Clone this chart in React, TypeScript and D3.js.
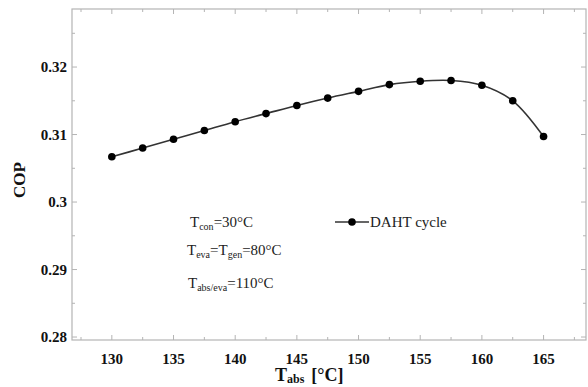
import { useRef, useEffect } from "react";
import * as d3 from "d3";

// values
const tAbs = [130, 132.5, 135, 137.5, 140, 142.5, 145, 147.5, 150, 152.5, 155, 157.5, 160, 162.5, 165];
const cop = [0.3067, 0.308, 0.3093, 0.3106, 0.3119, 0.3131, 0.3143, 0.3154, 0.3164, 0.3174, 0.3179, 0.318, 0.3173, 0.315, 0.3097];
const xTicks = [130, 135, 140, 145, 150, 155, 160, 165];
const xMinor = [127.5, 132.5, 137.5, 142.5, 147.5, 152.5, 157.5, 162.5, 167.5];
const yTicks = [0.28, 0.29, 0.3, 0.31, 0.32];
const yMinor = [0.285, 0.295, 0.305, 0.315, 0.325];
const seriesName = "DAHT cycle";

export default function App() {
  const ref = useRef<SVGSVGElement>(null);

  useEffect(() => {
    const width = 588;
    const height = 387;
    const left = 72, right = 586, top = 9, bottom = 340;
    const svg = d3.select(ref.current);
    svg.selectAll("*").remove();

    const font = "'Liberation Serif', 'Times New Roman', serif";
    const frame = "#b4b4b4";

    const x = d3.scaleLinear().domain([126.77, 168.44]).range([left, right]);
    const y = d3.scaleLinear().domain([0.27956, 0.3286]).range([bottom, top]);

    svg.append("rect").attr("width", width).attr("height", height).attr("fill", "white");

    // frame
    svg.append("rect")
      .attr("x", left).attr("y", top)
      .attr("width", right - left).attr("height", bottom - top)
      .attr("fill", "none").attr("stroke", frame).attr("stroke-width", 1.2);

    const ticks = svg.append("g").attr("stroke", frame).attr("stroke-width", 1);
    const tickX = (vals: number[], len: number) => {
      vals.forEach(v => {
        ticks.append("line").attr("x1", x(v)).attr("x2", x(v)).attr("y1", bottom).attr("y2", bottom - len);
        ticks.append("line").attr("x1", x(v)).attr("x2", x(v)).attr("y1", top).attr("y2", top + len);
      });
    };
    const tickY = (vals: number[], len: number) => {
      vals.forEach(v => {
        ticks.append("line").attr("y1", y(v)).attr("y2", y(v)).attr("x1", left).attr("x2", left + len);
        ticks.append("line").attr("y1", y(v)).attr("y2", y(v)).attr("x1", right).attr("x2", right - len);
      });
    };
    tickX(xTicks, 5); tickX(xMinor, 3);
    tickY(yTicks, 5); tickY(yMinor, 3);

    // tick labels
    svg.append("g").selectAll("text").data(xTicks).join("text")
      .attr("x", d => x(d)).attr("y", 364)
      .attr("text-anchor", "middle")
      .attr("font-family", font).attr("font-weight", "bold").attr("font-size", 15)
      .attr("fill", "#111")
      .text(d => d);

    svg.append("g").selectAll("text").data(yTicks).join("text")
      .attr("x", 67).attr("y", d => y(d) + 5)
      .attr("text-anchor", "end")
      .attr("font-family", font).attr("font-weight", "bold").attr("font-size", 15)
      .attr("fill", "#111")
      .text(d => d3.format("")(d));

    // axis titles
    const xt = svg.append("text")
      .attr("x", 275).attr("y", 381)
      .attr("font-family", font).attr("font-weight", "bold").attr("font-size", 18)
      .attr("fill", "#111");
    xt.append("tspan").text("T");
    xt.append("tspan").attr("font-size", 12).attr("dy", 2).text("abs");
    xt.append("tspan").attr("dy", -2).attr("dx", 7).text("[°C]");

    svg.append("text")
      .attr("transform", `translate(25,180) rotate(-90)`)
      .attr("text-anchor", "middle")
      .attr("font-family", font).attr("font-weight", "bold").attr("font-size", 17)
      .attr("fill", "#111")
      .text("COP");

    // curve
    const pts = tAbs.map((t, i) => [t, cop[i]] as [number, number]);
    const line = d3.line<[number, number]>()
      .x(d => x(d[0])).y(d => y(d[1]))
      .curve(d3.curveCatmullRom.alpha(0.5));
    svg.append("path").attr("d", line(pts))
      .attr("fill", "none").attr("stroke", "#333").attr("stroke-width", 1.6);
    svg.append("g").selectAll("circle").data(pts).join("circle")
      .attr("cx", d => x(d[0])).attr("cy", d => y(d[1]))
      .attr("r", 3.8).attr("fill", "#000");

    // legend
    const ly = 222;
    svg.append("line").attr("x1", 335).attr("x2", 369).attr("y1", ly).attr("y2", ly)
      .attr("stroke", "#333").attr("stroke-width", 1.6);
    svg.append("circle").attr("cx", 352).attr("cy", ly).attr("r", 3.8).attr("fill", "#000");
    svg.append("text").attr("x", 370).attr("y", ly + 5)
      .attr("font-family", font).attr("font-size", 15).attr("fill", "#222")
      .text(seriesName);

    // annotations
    const note = (xp: number, yp: number, parts: [string, boolean][]) => {
      const t = svg.append("text").attr("x", xp).attr("y", yp)
        .attr("font-family", font).attr("font-size", 15).attr("fill", "#222");
      let sub = false;
      parts.forEach(([s, isSub]) => {
        const sp = t.append("tspan").text(s);
        if (isSub) sp.attr("font-size", 10);
        if (isSub !== sub) sp.attr("dy", isSub ? 3 : -3);
        sub = isSub;
      });
    };
    note(190, 227, [["T", false], ["con", true], ["=30°C", false]]);
    note(187, 255, [["T", false], ["eva", true], ["=T", false], ["gen", true], ["=80°C", false]]);
    note(188, 288, [["T", false], ["abs/eva", true], ["=110°C", false]]);
  }, []);

  return (
    <div style={{ position: "absolute", left: 0, top: 0 }}>
      <svg ref={ref} width={588} height={387} style={{ display: "block" }} />
    </div>
  );
}
